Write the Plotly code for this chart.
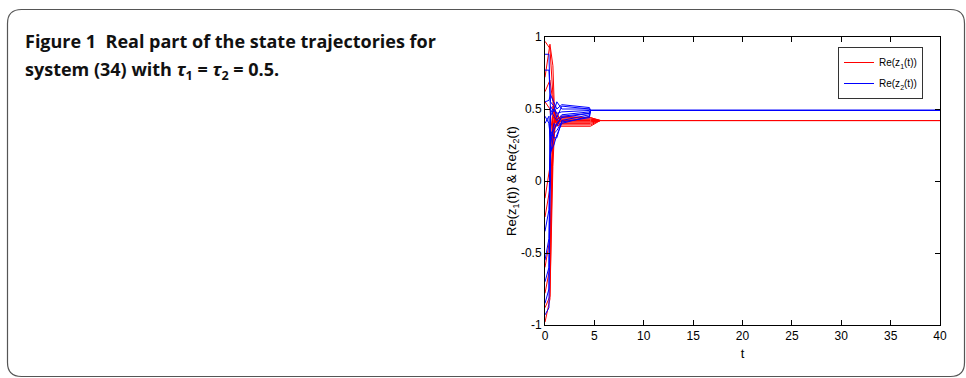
import plotly.graph_objects as go

# ---- data ----
red_t = [0, 0.5, 0.8, 1.0, 1.3, 1.6, 4.6, 5.6, 40]
red_runs = [
    [0.97, 0.92, 0.60, 0.45, 0.42, 0.41, 0.41, 0.42, 0.42],
    [0.72, 0.95, 0.80, 0.40, 0.44, 0.43, 0.43, 0.42, 0.42],
    [0.62, 0.70, 0.55, 0.38, 0.40, 0.39, 0.39, 0.42, 0.42],
    [0.55, 0.50, 0.30, 0.47, 0.41, 0.44, 0.44, 0.42, 0.42],
    [-0.12, 0.10, 0.45, 0.42, 0.38, 0.40, 0.40, 0.42, 0.42],
    [-0.25, -0.05, 0.25, 0.50, 0.45, 0.42, 0.42, 0.42, 0.42],
    [-0.60, -0.40, 0.20, 0.36, 0.43, 0.38, 0.38, 0.42, 0.42],
    [-0.78, -0.60, 0.52, 0.44, 0.39, 0.45, 0.44, 0.42, 0.42],
    [-0.88, -0.80, 0.10, 0.41, 0.46, 0.41, 0.41, 0.42, 0.42],
    [-0.98, -0.82, 0.35, 0.48, 0.40, 0.43, 0.43, 0.42, 0.42],
]
blue_t = [0, 0.4, 0.55, 0.9, 1.2, 1.7, 4.5, 4.6, 40]
blue_runs = [
    [0.88, 0.88, 0.50, 0.45, 0.42, 0.46, 0.48, 0.49, 0.49],
    [0.77, 0.77, 0.55, 0.52, 0.44, 0.52, 0.50, 0.49, 0.49],
    [0.55, 0.56, 0.60, 0.55, 0.50, 0.53, 0.51, 0.49, 0.49],
    [0.45, 0.40, 0.30, 0.35, 0.40, 0.44, 0.47, 0.49, 0.49],
    [0.40, 0.45, 0.20, 0.25, 0.32, 0.40, 0.45, 0.49, 0.49],
    [-0.35, -0.20, 0.35, 0.30, 0.30, 0.42, 0.46, 0.49, 0.49],
    [-0.55, -0.40, 0.25, 0.40, 0.38, 0.45, 0.47, 0.49, 0.49],
    [-0.70, -0.60, 0.45, 0.50, 0.47, 0.48, 0.49, 0.49, 0.49],
    [-0.85, -0.75, 0.18, 0.33, 0.35, 0.41, 0.44, 0.49, 0.49],
    [-0.93, -0.88, 0.52, 0.48, 0.55, 0.50, 0.50, 0.49, 0.49],
]
x_ticks = [0, 5, 10, 15, 20, 25, 30, 35, 40]
y_ticks = [-1, -0.5, 0, 0.5, 1]
y_tick_labels = ["-1", "-0.5", "0", "0.5", "1"]

fig = go.Figure()
for i, run in enumerate(red_runs):
    fig.add_trace(go.Scatter(x=red_t, y=run, mode="lines",
                             line=dict(color="#ff0000", width=1),
                             name="Re(z<sub>1</sub>(t))", legendgroup="r",
                             showlegend=(i == 0)))
for i, run in enumerate(blue_runs):
    fig.add_trace(go.Scatter(x=blue_t, y=run, mode="lines",
                             line=dict(color="#0000ff", width=1),
                             name="Re(z<sub>2</sub>(t))", legendgroup="b",
                             showlegend=(i == 0)))

W, H = 966, 378
L, R, T, B = 545, 940, 37, 325
pw, ph = R - L, B - T

def px(x):
    return (x - L) / pw

def py(y):
    return (B - y) / ph

# rounded card
x0, x1, y0, y1, r = 7.5, 964.5, 9.5, 376.5, 14
pts = (f"M {px(x0+r)},{py(y0)} L {px(x1-r)},{py(y0)} Q {px(x1)},{py(y0)} {px(x1)},{py(y0+r)} "
       f"L {px(x1)},{py(y1-r)} Q {px(x1)},{py(y1)} {px(x1-r)},{py(y1)} "
       f"L {px(x0+r)},{py(y1)} Q {px(x0)},{py(y1)} {px(x0)},{py(y1-r)} "
       f"L {px(x0)},{py(y0+r)} Q {px(x0)},{py(y0)} {px(x0+r)},{py(y0)} Z")
fig.add_shape(type="path", path=pts, xref="paper", yref="paper",
              line=dict(color="#555555", width=1.2), layer="below")

title_font = dict(family="Open Sans", size=18, color="#111111")
fig.add_annotation(
    text="<b>Figure 1\u00a0\u00a0Real part of the state trajectories for</b>",
    xref="paper", yref="paper", x=px(23), y=py(41), xanchor="left", yanchor="middle",
    align="left", showarrow=False, font=title_font)
fig.add_annotation(
    text="<b>system (34) with <i>τ</i><sub>1</sub> = <i>τ</i><sub>2</sub> = 0.5.</b>",
    xref="paper", yref="paper", x=px(23), y=py(70), xanchor="left", yanchor="middle",
    align="left", showarrow=False, font=title_font)

axis_common = dict(showline=True, linecolor="black", linewidth=1, mirror="ticks",
                   ticks="inside", ticklen=5, tickcolor="black", showgrid=False,
                   zeroline=False, tickfont=dict(family="Liberation Sans", size=12, color="black"))
fig.update_xaxes(range=[0, 40], tickvals=x_ticks, ticktext=[str(v) for v in x_ticks],
                 title=dict(text="t", font=dict(family="Liberation Sans", size=13, color="black"),
                            standoff=6), **axis_common)
fig.update_yaxes(range=[-1, 1], tickvals=y_ticks, ticktext=y_tick_labels,
                 title=dict(text="Re(z<sub>1</sub>(t)) & Re(z<sub>2</sub>(t)",
                            font=dict(family="Liberation Sans", size=13, color="black"),
                            standoff=1), **axis_common)

fig.update_layout(
    width=W, height=H,
    margin=dict(l=L, r=W - R, t=T, b=H - B),
    paper_bgcolor="white", plot_bgcolor="white",
    legend=dict(x=px(923), y=py(47), xanchor="right", yanchor="top",
                bgcolor="white", bordercolor="#333333", borderwidth=1,
                font=dict(family="Liberation Sans", size=10, color="black"),
                tracegroupgap=2),
)

fig.write_html("out.html", config={"displayModeBar": False},
               post_script="document.body.style.margin='0';document.body.style.overflow='hidden';")
